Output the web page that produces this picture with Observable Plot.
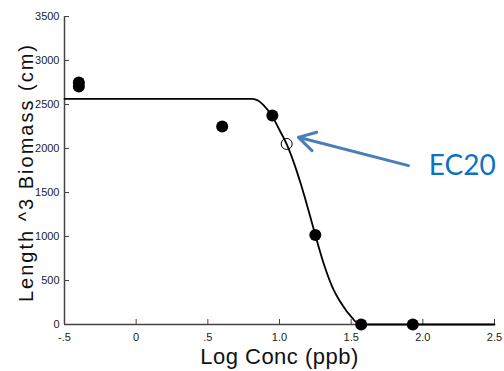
<!DOCTYPE html>
<html>
<head>
<meta charset="utf-8">
<script src="https://cdn.jsdelivr.net/npm/d3@7"></script>
<script src="https://cdn.jsdelivr.net/npm/@observablehq/plot@0.6"></script>
<style>
  html, body { margin: 0; padding: 0; background: #fff; }
  #chart { width: 504px; height: 371px; }
</style>
</head>
<body>
<div id="chart"></div>
<script>
// Axis ticks
const xTicks = [-0.5, 0, 0.5, 1.0, 1.5, 2.0, 2.5];
const xTickLabels = ["-.5", "0", ".5", "1.0", "1.5", "2.0", "2.5"];
const yTicks = [0, 500, 1000, 1500, 2000, 2500, 3000, 3500];

// Observed data (filled circles)
const obsX = [-0.40, -0.40, 0.60, 0.95, 1.25, 1.57, 1.93];
const obsY = [2750, 2705, 2250, 2375, 1017, 0, 0];

// Fitted curve
const fitX = [-0.5, 0.81, 0.85, 0.89, 0.95, 1.00, 1.05, 1.10, 1.15, 1.20, 1.25, 1.306, 1.365, 1.434, 1.504, 1.562, 2.5];
const fitY = [2565, 2565, 2545, 2490, 2365, 2210, 2050, 1840, 1590, 1310, 1017, 705, 440, 232, 80, 0, 0];

// EC20 marker (open circle)
const ecX = [1.05];
const ecY = [2052];

// Annotation arrow and label
const arrowX1 = [1.90], arrowY1 = [1805], arrowX2 = [1.132], arrowY2 = [2127];
const labelX = [2.275], labelY = [1800], labelText = ["EC20"];

const xLabel = "Log Conc (ppb)";
const yLabel = "Length ^3 Biomass (cm)";

const obs = obsX.map((x, i) => ({x, y: obsY[i]}));
const fit = fitX.map((x, i) => ({x, y: fitY[i]}));
const ec = ecX.map((x, i) => ({x, y: ecY[i]}));
const arrows = arrowX1.map((x, i) => ({x1: x, y1: arrowY1[i], x2: arrowX2[i], y2: arrowY2[i]}));
const labels = labelX.map((x, i) => ({x, y: labelY[i], t: labelText[i]}));

const font = "'Liberation Sans', Arial, sans-serif";
const axisColor = "#444";

const chart = Plot.plot({
  width: 504,
  height: 371,
  marginLeft: 64,
  marginRight: 10,
  marginTop: 16,
  marginBottom: 47,
  x: {domain: [-0.5, 2.5], label: null},
  y: {domain: [0, 3500], label: null},
  style: {fontFamily: font, background: "#fff", color: "#222"},
  marks: [
    // tick marks (inward)
    Plot.axisY(yTicks, {tickSize: 5, dx: 5, fill: "none", stroke: axisColor, label: null}),
    Plot.axisX(xTicks, {tickSize: 5, dy: -5, fill: "none", stroke: axisColor, label: null}),
    // tick labels
    Plot.axisY(yTicks, {tickSize: 0, tickPadding: 5, fontSize: 11, fill: "#222", label: null, tickFormat: d => String(d)}),
    Plot.axisX(xTicks, {tickSize: 0, tickPadding: 9, fontSize: 11, fill: "#222", label: null,
      tickFormat: d => xTickLabels[xTicks.indexOf(d)]}),
    // axis lines
    Plot.ruleX([-0.5], {stroke: axisColor, strokeWidth: 1.5}),
    Plot.ruleY([0], {stroke: axisColor, strokeWidth: 1.5}),
    // fitted curve
    Plot.line(fit, {x: "x", y: "y", stroke: "#000", strokeWidth: 1.8, curve: "monotone-x"}),
    // observed points
    Plot.dot(obs, {x: "x", y: "y", r: 6, fill: "#000", stroke: "none"}),
    // EC20 open circle
    Plot.dot(ec, {x: "x", y: "y", r: 5.5, fill: "none", stroke: "#000", strokeWidth: 1}),
    // arrow
    Plot.arrow(arrows, {x1: "x1", y1: "y1", x2: "x2", y2: "y2", stroke: "#4A7EBB", strokeWidth: 3,
      headLength: 9.5, headAngle: 60}),
    // EC20 label
    Plot.text(labels, {x: "x", y: "y", text: "t", fontSize: 28, fill: "#0E72C1",
      fontFamily: "Lato, 'Open Sans', sans-serif", textAnchor: "middle", lineAnchor: "middle"}),
    // axis titles
    Plot.text([yLabel], {text: d => d, frameAnchor: "left", rotate: -90, dx: -38, dy: 2, fontSize: 20,
      fill: "#111", textAnchor: "middle", lineAnchor: "middle"}),
    Plot.text([xLabel], {text: d => d, frameAnchor: "bottom", dy: 32, fontSize: 22,
      fill: "#111", textAnchor: "middle", lineAnchor: "middle"})
  ]
});

d3.select(chart).selectAll("text")
  .filter(function() { return this.textContent === yLabel; })
  .attr("letter-spacing", "2px");
d3.select(chart).selectAll("text")
  .filter(function() { return this.textContent === xLabel; })
  .attr("letter-spacing", "0.5px");

document.getElementById("chart").appendChild(chart);
</script>
</body>
</html>
